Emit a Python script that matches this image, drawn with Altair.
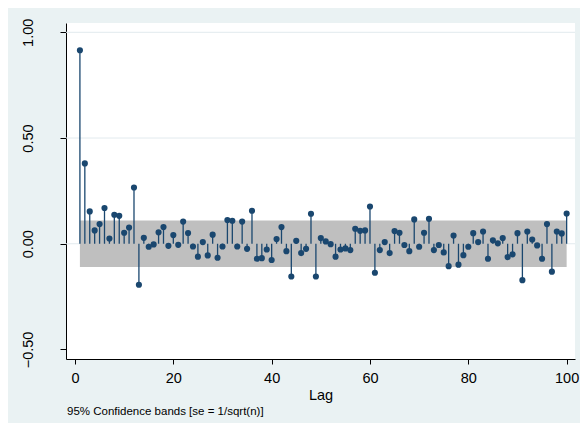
import altair as alt
import pandas as pd

lags = list(range(1, 101))
pac = [0.915, 0.380, 0.153, 0.063, 0.093, 0.169, 0.025, 0.137, 0.132, 0.052,
       0.077, 0.266, -0.194, 0.028, -0.014, -0.003, 0.054, 0.079, -0.010, 0.041,
       -0.005, 0.105, 0.051, -0.013, -0.061, 0.008, -0.055, 0.043, -0.066, -0.013,
       0.112, 0.109, -0.013, 0.105, -0.024, 0.156, -0.071, -0.068, -0.027, -0.077,
       0.022, 0.079, -0.035, -0.155, 0.014, -0.044, -0.024, 0.142, -0.155, 0.027,
       0.011, -0.002, -0.061, -0.027, -0.022, -0.030, 0.071, 0.061, 0.063, 0.176,
       -0.137, -0.030, 0.008, -0.044, 0.060, 0.052, -0.006, -0.035, 0.115, -0.014,
       0.052, 0.118, -0.030, -0.006, -0.041, -0.106, 0.039, -0.099, -0.054, -0.014,
       0.050, 0.008, 0.058, -0.071, 0.016, 0.002, 0.027, -0.063, -0.050, 0.050,
       -0.172, 0.058, 0.020, -0.008, -0.071, 0.093, -0.132, 0.058, 0.049, 0.143]
ci = 0.11
grid_vals = [0.0, 0.5, 1.0]
y_ticks = [-0.5, 0.0, 0.5, 1.0]
x_ticks = [0, 20, 40, 60, 80, 100]
note = "95% Confidence bands [se = 1/sqrt(n)]"

df = pd.DataFrame({"lag": lags, "pac": pac})
df["zero"] = 0.0
df["lo"] = -ci
df["hi"] = ci
gdf = pd.DataFrame({"g": grid_vals})

NAVY = "#1a476f"
FONT = "Liberation Sans"

xs = alt.Scale(domain=[-1.83, 101.7], nice=False, zero=False)
ys = alt.Scale(domain=[-0.545, 1.044], nice=False, zero=False)

xax = alt.Axis(values=x_ticks, title="Lag", grid=False, labelFont=FONT, titleFont=FONT,
               labelFontSize=14.5, titleFontSize=14.5, titleFontWeight="normal",
               labelColor="black", titleColor="black", domainColor="black", tickColor="black",
               domainWidth=1, tickWidth=1, tickSize=5, labelPadding=7,
               titleBaseline="alphabetic", titleY=40)
yax = alt.Axis(values=y_ticks, format=".2f", title=None, grid=False, labelFont=FONT,
               labelFontSize=14.5, labelColor="black", domainColor="black", tickColor="black",
               domainWidth=1, tickWidth=1, tickSize=6, labelAngle=270, labelAlign="center",
               labelBaseline="alphabetic", labelPadding=28)

grid = alt.Chart(gdf).mark_rule(color="#e2eaee", strokeWidth=1).encode(
    y=alt.Y("g:Q", scale=ys, axis=yax))
base = alt.Chart(df)
band = base.mark_area(color="#bfbfbf", opacity=1).encode(
    x=alt.X("lag:Q", scale=xs, axis=xax),
    y=alt.Y("lo:Q", scale=ys),
    y2="hi:Q")
stems = base.mark_rule(color=NAVY, strokeWidth=1.3).encode(
    x=alt.X("lag:Q", scale=xs), y=alt.Y("zero:Q", scale=ys), y2="pac:Q")
pts = base.mark_circle(color=NAVY, size=38, opacity=1).encode(
    x=alt.X("lag:Q", scale=xs), y=alt.Y("pac:Q", scale=ys))
note_c = alt.Chart(pd.DataFrame({"t": [note]})).mark_text(
    align="left", baseline="alphabetic", fontSize=11.5, font=FONT, color="black").encode(
    text="t:N", x=alt.value(1), y=alt.value(392))

chart = alt.layer(grid, band, stems, pts, note_c).properties(
    width=509, height=336,
    background="#eaf2f3",
    padding={"left": 58, "top": 15, "right": 5, "bottom": 64},
    autosize=alt.AutoSizeParams(type="none"),
).configure_view(fill="white", strokeWidth=0)

chart.save("out.html", embed_options={"renderer": "svg", "actions": False})
